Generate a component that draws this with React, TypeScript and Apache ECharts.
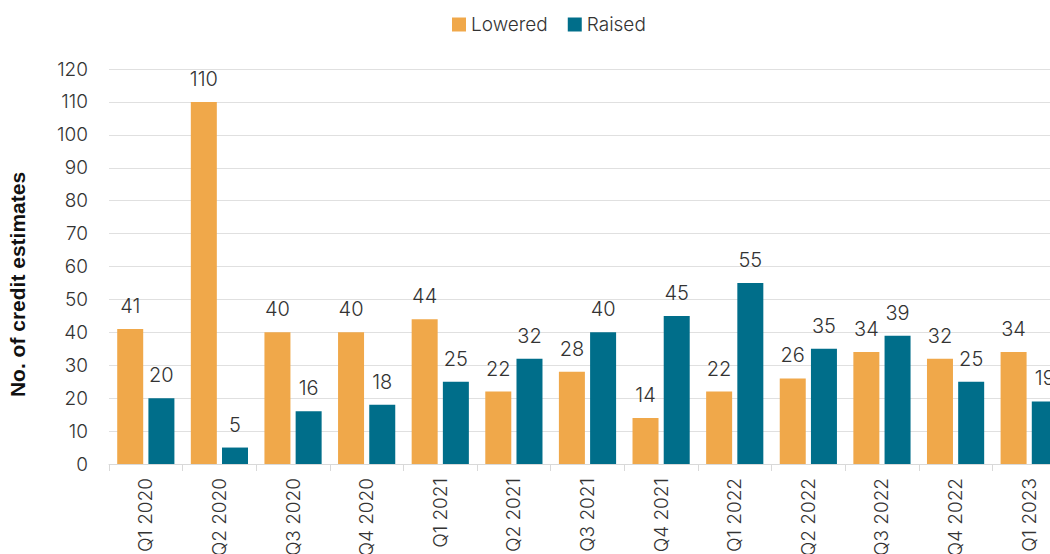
import React, { useEffect, useRef } from "react";
import * as echarts from "echarts";

const categories = [
  "Q1 2020", "Q2 2020", "Q3 2020", "Q4 2020",
  "Q1 2021", "Q2 2021", "Q3 2021", "Q4 2021",
  "Q1 2022", "Q2 2022", "Q3 2022", "Q4 2022",
  "Q1 2023",
];
const lowered = [41, 110, 40, 40, 44, 22, 28, 14, 22, 26, 34, 32, 34];
const raised = [20, 5, 16, 18, 25, 32, 40, 45, 55, 35, 39, 25, 19];
const yTicks = { min: 0, max: 120, interval: 10 };

const FONT = "Inter, Roboto, sans-serif";

export default function App() {
  const ref = useRef<HTMLDivElement>(null);
  useEffect(() => {
    document.body.style.margin = "0";
    document.body.style.overflow = "hidden";
    const chart = echarts.init(ref.current!, null, { renderer: "svg" });
    const labelStyle = {
      show: true,
      position: "top" as const,
      distance: 13,
      fontSize: 20,
      fontWeight: 300,
      color: "#333",
      fontFamily: FONT,
    };
    chart.setOption({
      animation: false,
      textStyle: { fontFamily: FONT },
      legend: {
        top: 10,
        left: 447,
        itemWidth: 14,
        itemHeight: 14,
        itemGap: 20,
        icon: "rect",
        textStyle: { fontSize: 19, fontWeight: 300, color: "#333", fontFamily: FONT },
        data: ["Lowered", "Raised"],
      },
      grid: { left: 109, right: 34, top: 69, bottom: 90, outerBoundsMode: "none", containLabel: false },
      xAxis: {
        type: "category",
        data: categories,
        axisLine: { lineStyle: { color: "#d9d9d9" } },
        axisTick: { show: true, length: 7, lineStyle: { color: "#d9d9d9" } },
        axisLabel: {
          rotate: 90,
          fontSize: 19,
          fontWeight: 300,
          color: "#333",
          margin: 14,
          fontFamily: FONT,
        },
      },
      yAxis: {
        type: "value",
        min: yTicks.min,
        max: yTicks.max,
        interval: yTicks.interval,
        name: "No. of credit estimates",
        nameLocation: "middle",
        nameGap: 81,
        nameTextStyle: {
          fontSize: 21,
          fontWeight: "bold",
          color: "#111",
          fontFamily: "'Liberation Sans', Arial, sans-serif",
          padding: [0, 36, 0, 0],
        },
        axisLine: { show: false },
        axisTick: { show: false },
        splitLine: { lineStyle: { color: "#e0e0e0" } },
        axisLabel: { fontSize: 19, fontWeight: 300, color: "#333", margin: 21, fontFamily: FONT },
      },
      series: [
        {
          name: "Lowered",
          type: "bar",
          data: lowered,
          barWidth: 26,
          barGap: "20%",
          itemStyle: { color: "#F0A84A" },
          label: labelStyle,
        },
        {
          name: "Raised",
          type: "bar",
          data: raised,
          barWidth: 26,
          itemStyle: { color: "#006E8A" },
          label: labelStyle,
        },
      ],
    });
    return () => chart.dispose();
  }, []);
  return (
    <div style={{ position: "fixed", left: 0, top: 0, width: 1050, height: 554, overflow: "hidden", background: "#fff" }}>
      <div ref={ref} style={{ width: 1100, height: 554 }} />
    </div>
  );
}
